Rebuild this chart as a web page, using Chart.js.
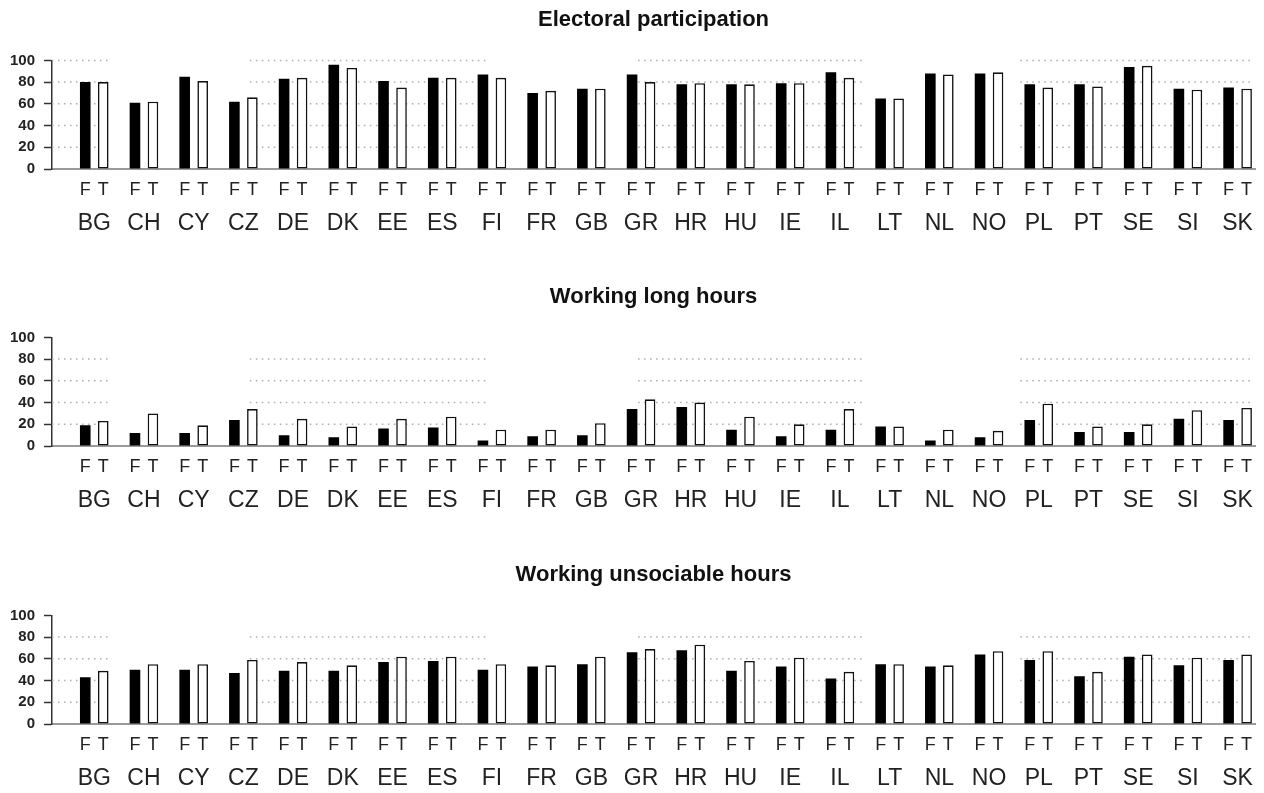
<!DOCTYPE html>
<html>
<head>
<meta charset="utf-8">
<script src="https://cdn.jsdelivr.net/npm/chart.js@4"></script>
<style>
  body { margin: 0; background: #fff; }
  .panel { position: absolute; left: 0; width: 1264px; height: 244px; }
</style>
</head>
<body>
<div class="panel" style="top:0px"><canvas id="c1"></canvas></div>
<div class="panel" style="top:277px"><canvas id="c2"></canvas></div>
<div class="panel" style="top:555px"><canvas id="c3"></canvas></div>
<script>
const countries = ['BG','CH','CY','CZ','DE','DK','EE','ES','FI','FR','GB','GR','HR','HU','IE','IL','LT','NL','NO','PL','PT','SE','SI','SK'];

const electoralF = [80,61,85,62,83,96,81,84,87,70,74,87,78,78,79,89,65,88,88,78,78,94,74,75];
const electoralT = [80,62,81,66,84,93,75,84,84,72,74,80,79,78,79,84,65,87,89,75,76,95,73,74];

const longHoursF = [19,12,12,24,10,8,16,17,5,9,10,34,36,15,9,15,18,5,8,24,13,13,25,24];
const longHoursT = [23,30,19,34,25,18,25,27,15,15,21,43,40,27,20,34,18,15,14,39,18,20,33,35];

const unsociableF = [43,50,50,47,49,49,57,58,50,53,55,66,68,49,53,42,55,53,64,59,44,62,54,59];
const unsociableT = [49,55,55,59,57,54,62,62,55,54,62,69,73,58,61,48,55,54,67,67,48,64,61,64];

const yTicks = [0,20,40,60,80,100];
const pairLabels = ['F','T'];

// dotted grid only shows in some stretches of the picture (x in category units)
const dotBands = [[-0.85,0.28],[3.13,7.92],[10.94,15.51],[18.63,23.3]];

const FONT = "'Liberation Sans', Arial, sans-serif";

const dottedGrid = {
    id: 'dottedGrid',
    beforeDatasetsDraw(chart, args, opts) {
        const ctx = chart.ctx, xs = chart.scales.x, ys = chart.scales.y;
        ctx.save();
        ctx.strokeStyle = '#adadad';
        ctx.lineWidth = 1.5;
        ctx.setLineDash([1.5, 4.5]);
        opts.levels.forEach(lv => {
            const y = ys.getPixelForValue(lv);
            dotBands.forEach(b => {
                ctx.beginPath();
                ctx.moveTo(xs.getPixelForValue(b[0]), y);
                ctx.lineTo(xs.getPixelForValue(b[1]), y);
                ctx.stroke();
            });
        });
        ctx.restore();
    }
};

function makeChart(id, title, fVals, tVals, levels) {
    return new Chart(document.getElementById(id).getContext('2d'), {
        type: 'bar',
        data: {
            datasets: [{
                label: 'F',
                xAxisID: 'x',
                data: fVals.map((v, i) => ({x: i, y: v})),
                backgroundColor: '#000',
                borderWidth: 0
            }, {
                label: 'T',
                xAxisID: 'x',
                data: tVals.map((v, i) => ({x: i, y: v})),
                backgroundColor: '#fff',
                borderColor: '#111',
                borderWidth: 1.6,
                borderSkipped: false
            }]
        },
        options: {
            responsive: true,
            maintainAspectRatio: false,
            animation: false,
            categoryPercentage: 0.724,
            barPercentage: 0.59,
            layout: { padding: { top: 0, right: 9, bottom: 3, left: 0 } },
            plugins: {
                legend: { display: false },
                tooltip: { enabled: false },
                title: {
                    display: true,
                    text: title,
                    fullSize: false,
                    color: '#111',
                    font: { family: FONT, size: 22, weight: 'bold' },
                    padding: { top: 7, bottom: 27 }
                },
                dottedGrid: { levels: levels }
            },
            scales: {
                x: {
                    type: 'linear', position: 'bottom', weight: 1, offset: false,
                    min: -0.85, max: 23.35, bounds: 'data',
                    afterFit: s => { s.height = 36; },
                    afterBuildTicks: s => { s.ticks = countries.map((c, i) => ({value: i})); },
                    grid: { display: false, drawTicks: false, offset: false },
                    border: { display: false },
                    ticks: {
                        autoSkip: false, maxRotation: 0, padding: 4.5, color: '#222',
                        font: { family: FONT, size: 23 },
                        callback: (v, i) => countries[i]
                    }
                },
                xft: {
                    type: 'linear', position: 'bottom', weight: 0, offset: false,
                    min: -0.85, max: 23.35, bounds: 'data',
                    afterFit: s => { s.height = 36; },
                    afterBuildTicks: s => {
                        s.ticks = countries.flatMap((c, i) => [{value: i - 0.181}, {value: i + 0.181}]);
                    },
                    grid: { display: false, drawTicks: false, offset: false },
                    border: { display: true, color: '#9a9a9a', width: 2 },
                    ticks: {
                        autoSkip: false, maxRotation: 0, padding: 10, color: '#222',
                        font: { family: FONT, size: 18 },
                        callback: (v, i) => pairLabels[i % 2]
                    }
                },
                y: {
                    min: 0, max: 100,
                    afterFit: s => { s.width = 52; },
                    afterBuildTicks: s => { s.ticks = yTicks.map(v => ({value: v})); },
                    grid: { drawOnChartArea: false, drawTicks: true, tickLength: 8, tickColor: '#333', tickWidth: 1.5 },
                    border: { display: true, color: '#333', width: 1.5 },
                    ticks: { padding: 9, color: '#222', font: { family: FONT, size: 15, weight: 'bold' } }
                }
            }
        },
        plugins: [dottedGrid]
    });
}

makeChart('c1', 'Electoral participation', electoralF, electoralT, [20,40,60,80,100]);
makeChart('c2', 'Working long hours', longHoursF, longHoursT, [20,40,60,80]);
makeChart('c3', 'Working unsociable hours', unsociableF, unsociableT, [20,40,60,80]);
</script>
</body>
</html>
